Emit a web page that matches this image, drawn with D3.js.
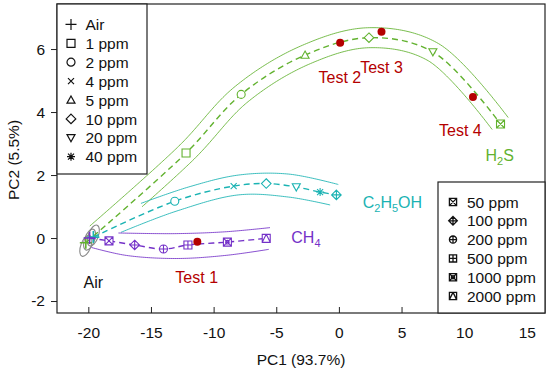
<!DOCTYPE html>
<meta charset="utf-8">
<head>
  <title>PCA score plot</title>
</head>
<style>
body { margin: 0; background: white; }
text { font-family: "Liberation Sans", Arial, sans-serif; }
</style>
<body>
<svg width="550" height="374"></svg>
<script src="https://cdn.jsdelivr.net/npm/d3@7/dist/d3.min.js"></script>
<script>
var xTicks = [-20, -15, -10, -5, 0, 5, 10, 15];
var yTicks = [-2, 0, 2, 4, 6];

// marker series (PC1, PC2, symbol)
var h2sX = [-20.2, -12.2, -7.8, -2.7, 2.4, 7.5, 12.9];
var h2sY = [-0.15, 2.7, 4.56, 5.81, 6.36, 5.91, 3.62];
var h2sSym = ["plus", "square", "circle", "triUp", "diamond", "triDown", "sqX"];

var ethX = [-19.6, -13.1, -8.4, -5.8, -3.4, -1.5, -0.2];
var ethY = [0.03, 1.17, 1.65, 1.73, 1.62, 1.46, 1.37];
var ethSym = ["plus", "circle", "cross", "diamond", "triDown", "star", "diamPlus"];

var ch4X = [-19.9, -18.35, -16.3, -14.0, -12.05, -8.9, -5.8];
var ch4Y = [0.0, -0.09, -0.22, -0.35, -0.22, -0.13, -0.01];
var ch4Sym = ["plus", "sqX", "diamPlus", "circPlus", "sqPlus", "sqXo", "sqTri"];

// confidence bands: H2S is a constant-width band (px), the others are read point by point
var h2sBandW = 10, h2sUpStart = -19.9, h2sLoStart = -15.8;

var ethUpX = [-15.8, -12, -8, -4, -0.05];
var ethUpY = [1.1, 1.62, 2.0, 2.03, 1.7];
var ethLoX = [-17.4, -13, -8, -4, -0.7];
var ethLoY = [0.18, 0.85, 1.37, 1.3, 1.05];

var ch4UpX = [-17.6, -13, -9, -5.5];
var ch4UpY = [0.16, 0.14, 0.2, 0.33];
var ch4LoX = [-19.75, -17, -13, -9, -5.6];
var ch4LoY = [-0.3, -0.55, -0.65, -0.55, -0.36];

// unknown test samples
var testNames = ["Test 1", "Test 2", "Test 3", "Test 4"];
var testX = [-11.3, 0.1, 3.4, 10.7];
var testY = [-0.12, 6.2, 6.55, 4.48];
var testLabX = [-11.35, 0.08, 3.4, 9.7];
var testLabY = [-1.43, 4.92, 5.24, 3.24];

// air clusters (ellipses)
var airX = [-20.2, -19.9, -19.6];
var airY = [-0.25, -0.05, 0.08];

var legend1Names = ["Air", "1 ppm", "2 ppm", "4 ppm", "5 ppm", "10 ppm", "20 ppm", "40 ppm"];
var legend1Sym = ["plus", "square", "circle", "cross", "triUp", "diamond", "triDown", "star"];
var legend2Names = ["50 ppm", "100 ppm", "200 ppm", "500 ppm", "1000 ppm", "2000 ppm"];
var legend2Sym = ["sqX", "diamPlus", "circPlus", "sqPlus", "sqXo", "sqTri"];

var green = "#62b22f", cyan = "#1ab3b3", purple = "#7431c8", red = "#b40000";

var svg = d3.select("svg");
var x = d3.scaleLinear().domain([-22.5, 16.45]).range([57, 545]);
var y = d3.scaleLinear().domain([-2.38, 7.43]).range([313, 4]);

function symbolPath(type, r) {
  var sq = "M" + (-r) + "," + (-r) + "H" + r + "V" + r + "H" + (-r) + "Z";
  var pl = "M" + (-r) + ",0H" + r + "M0," + (-r) + "V" + r;
  var xx = "M" + (-r) + "," + (-r) + "L" + r + "," + r + "M" + (-r) + "," + r + "L" + r + "," + (-r);
  var ci = "M" + r + ",0A" + r + "," + r + " 0 1,1 " + (-r) + ",0A" + r + "," + r + " 0 1,1 " + r + ",0";
  var di = "M0," + (-r * 1.2) + "L" + (r * 1.2) + ",0L0," + (r * 1.2) + "L" + (-r * 1.2) + ",0Z";
  var dpl = "M" + (-r * 1.2) + ",0H" + (r * 1.2) + "M0," + (-r * 1.2) + "V" + (r * 1.2);
  var r2 = r * 0.75;
  var sx = "M" + (-r2) + "," + (-r2) + "L" + r2 + "," + r2 + "M" + (-r2) + "," + r2 + "L" + r2 + "," + (-r2);
  var r3 = r * 0.45;
  switch (type) {
    case "plus": return pl;
    case "square": return sq;
    case "circle": return ci;
    case "cross": return sx;
    case "triUp": return "M0," + (-r) + "L" + r + "," + (r * 0.8) + "L" + (-r) + "," + (r * 0.8) + "Z";
    case "triDown": return "M0," + r + "L" + r + "," + (-r * 0.8) + "L" + (-r) + "," + (-r * 0.8) + "Z";
    case "diamond": return di;
    case "star": return pl + sx;
    case "sqX": return sq + xx;
    case "diamPlus": return di + dpl;
    case "circPlus": return ci + pl;
    case "sqPlus": return sq + pl;
    case "sqXo": return sq + xx + "M" + r3 + ",0A" + r3 + "," + r3 + " 0 1,1 " + (-r3) + ",0A" + r3 + "," + r3 + " 0 1,1 " + r3 + ",0";
    case "sqTri": return sq + "M0," + (-r) + "L" + r + "," + r + "M0," + (-r) + "L" + (-r) + "," + r;
  }
}

var line = d3.line().x(function(d) { return x(d[0]); }).y(function(d) { return y(d[1]); })
  .curve(d3.curveCatmullRom.alpha(0.5));
var pxLine = d3.line().curve(d3.curveLinear);

function zip(a, b) { return a.map(function(v, i) { return [v, b[i]]; }); }

// offset a curve sideways by w pixels (w > 0 = above), keeping points right of startX
function offsetCurve(pts, w, startX) {
  var p = svg.append("path").attr("d", line(pts)).attr("visibility", "hidden");
  var node = p.node(), L = node.getTotalLength(), out = [];
  for (var s = 0; s <= L + 0.01; s += 2) {
    s = Math.min(s, L);
    var a = node.getPointAtLength(Math.max(0, s - 1)),
        b = node.getPointAtLength(Math.min(L, s + 1)),
        c = node.getPointAtLength(s);
    var dx = b.x - a.x, dy = b.y - a.y, n = Math.hypot(dx, dy) || 1;
    var q = [c.x + w * dy / n, c.y - w * dx / n];
    if (q[0] >= x(startX)) out.push(q);
    if (s === L) break;
  }
  p.remove();
  return out;
}

// air ellipses
svg.selectAll(".air").data(zip(airX, airY)).enter().append("ellipse")
  .attr("transform", function(d) { return "translate(" + x(d[0]) + "," + y(d[1]) + ") rotate(20)"; })
  .attr("rx", 5).attr("ry", 11)
  .attr("fill", "none").attr("stroke", "#8a8a8a").attr("stroke-width", 1.1);

function series(xs, ys, syms, bands, col) {
  var g = svg.append("g");
  bands.forEach(function(b) {
    g.append("path").attr("d", pxLine(b)).attr("fill", "none")
      .attr("stroke", col).attr("stroke-width", 1).attr("opacity", 0.85);
  });
  g.append("path").attr("d", line(zip(xs, ys))).attr("fill", "none")
    .attr("stroke", col).attr("stroke-width", 1.4).attr("stroke-dasharray", "6,4");
  g.selectAll(".m").data(xs).enter().append("path")
    .attr("transform", function(d, i) { return "translate(" + x(d) + "," + y(ys[i]) + ")"; })
    .attr("d", function(d, i) { return symbolPath(syms[i], syms[i] === "plus" ? 6 : 4); })
    .attr("fill", "white").attr("fill-opacity", function(d, i) { return syms[i] === "plus" ? 0 : 1; })
    .attr("stroke", col).attr("stroke-width", function(d, i) { return syms[i] === "plus" ? 1.6 : 1.1; });
}

function bandPx(bx, by) {
  var s = svg.append("path").attr("d", line(zip(bx, by))).attr("visibility", "hidden");
  var node = s.node(), L = node.getTotalLength(), out = [];
  for (var t = 0; t < L; t += 2) { var c = node.getPointAtLength(t); out.push([c.x, c.y]); }
  var e = node.getPointAtLength(L); out.push([e.x, e.y]);
  s.remove();
  return out;
}

var h2sPts = zip(h2sX, h2sY);
series(h2sX, h2sY, h2sSym,
  [offsetCurve(h2sPts, h2sBandW, h2sUpStart), offsetCurve(h2sPts, -h2sBandW, h2sLoStart)], green);
series(ethX, ethY, ethSym, [bandPx(ethUpX, ethUpY), bandPx(ethLoX, ethLoY)], cyan);
series(ch4X, ch4Y, ch4Sym, [bandPx(ch4UpX, ch4UpY), bandPx(ch4LoX, ch4LoY)], purple);

// tests
svg.selectAll(".test").data(testX).enter().append("circle")
  .attr("cx", function(d) { return x(d); })
  .attr("cy", function(d, i) { return y(testY[i]); })
  .attr("r", 4).attr("fill", red);

svg.selectAll(".tl").data(testNames).enter().append("text")
  .attr("x", function(d, i) { return x(testLabX[i]); })
  .attr("y", function(d, i) { return y(testLabY[i]); })
  .attr("text-anchor", "middle").attr("font-size", 16).attr("fill", red)
  .text(function(d) { return d; });

// series labels
function chem(parts, px, py, col) {
  var t = svg.append("text").attr("x", x(px)).attr("y", y(py)).attr("font-size", 16).attr("fill", col);
  parts.forEach(function(p) {
    if (p[1]) t.append("tspan").attr("font-size", 11).attr("dy", 4).text(p[0]);
    else t.append("tspan").attr("dy", p[2] ? -4 : 0).text(p[0]);
  });
}
chem([["H"], ["2", 1], ["S", 0, 1]], 11.7, 2.43, green);
chem([["C"], ["2", 1], ["H", 0, 1], ["5", 1], ["OH", 0, 1]], 1.9, 0.95, cyan);
chem([["CH"], ["4", 1]], -3.8, -0.17, purple);

svg.append("text").attr("x", x(-19.6)).attr("y", y(-1.6)).attr("text-anchor", "middle")
  .attr("font-size", 16).attr("fill", "#111").text("Air");

// axes
var gx = svg.append("g").attr("transform", "translate(0,313)")
  .call(d3.axisBottom(x).tickValues(xTicks).tickSize(-6).tickPadding(14).tickFormat(d3.format("d")));
var gy = svg.append("g").attr("transform", "translate(57,0)")
  .call(d3.axisLeft(y).tickValues(yTicks).tickSize(6).tickPadding(6).tickFormat(d3.format("d")));
[gx, gy].forEach(function(g) {
  g.select(".domain").remove();
  g.selectAll("line").attr("stroke", "#222");
  g.selectAll("text").attr("font-size", 15.5).attr("fill", "#111")
    .attr("font-family", "Liberation Sans, Arial, sans-serif");
});
gx.selectAll("text").text(function(d) { return d < 0 ? "-" + Math.abs(d) : d; });
gy.selectAll("text").text(function(d) { return d < 0 ? "-" + Math.abs(d) : d; });

svg.append("rect").attr("x", 57).attr("y", 4).attr("width", 488).attr("height", 309)
  .attr("fill", "none").attr("stroke", "#222").attr("stroke-width", 1.2);

svg.append("text").attr("x", 301).attr("y", 365).attr("text-anchor", "middle")
  .attr("font-size", 15.5).attr("fill", "#111").text("PC1 (93.7%)");
svg.append("text").attr("transform", "translate(19,160) rotate(-90)").attr("text-anchor", "middle")
  .attr("font-size", 15.5).attr("fill", "#111").text("PC2 (5.5%)");

// legends
var l1 = svg.append("g");
l1.append("rect").attr("x", 57).attr("y", 4).attr("width", 90).attr("height", 170)
  .attr("fill", "white").attr("stroke", "#222").attr("stroke-width", 1.2);
l1.selectAll(".s").data(legend1Sym).enter().append("path")
  .attr("transform", function(d, i) { return "translate(71," + (24.4 + i * 18.9) + ")"; })
  .attr("d", function(d) { return symbolPath(d, d === "plus" ? 5.5 : 4); })
  .attr("fill", "none").attr("stroke", "#111").attr("stroke-width", 1.2);
l1.selectAll(".t").data(legend1Names).enter().append("text")
  .attr("x", 85.5).attr("y", function(d, i) { return 30 + i * 18.9; })
  .attr("font-size", 15.5).attr("fill", "#111").text(function(d) { return d; });

var l2 = svg.append("g");
l2.append("rect").attr("x", 438).attr("y", 182).attr("width", 107).attr("height", 131)
  .attr("fill", "white").attr("stroke", "#222").attr("stroke-width", 1.2);
l2.selectAll(".s").data(legend2Sym).enter().append("path")
  .attr("transform", function(d, i) { return "translate(453," + (202 + i * 18.8) + ")"; })
  .attr("d", function(d) { return symbolPath(d, 3.6); })
  .attr("fill", "none").attr("stroke", "#111").attr("stroke-width", 1.3);
l2.selectAll(".t").data(legend2Names).enter().append("text")
  .attr("x", 467).attr("y", function(d, i) { return 207.5 + i * 18.8; })
  .attr("font-size", 15.5).attr("fill", "#111").text(function(d) { return d; });
</script>
</body>
</html>
